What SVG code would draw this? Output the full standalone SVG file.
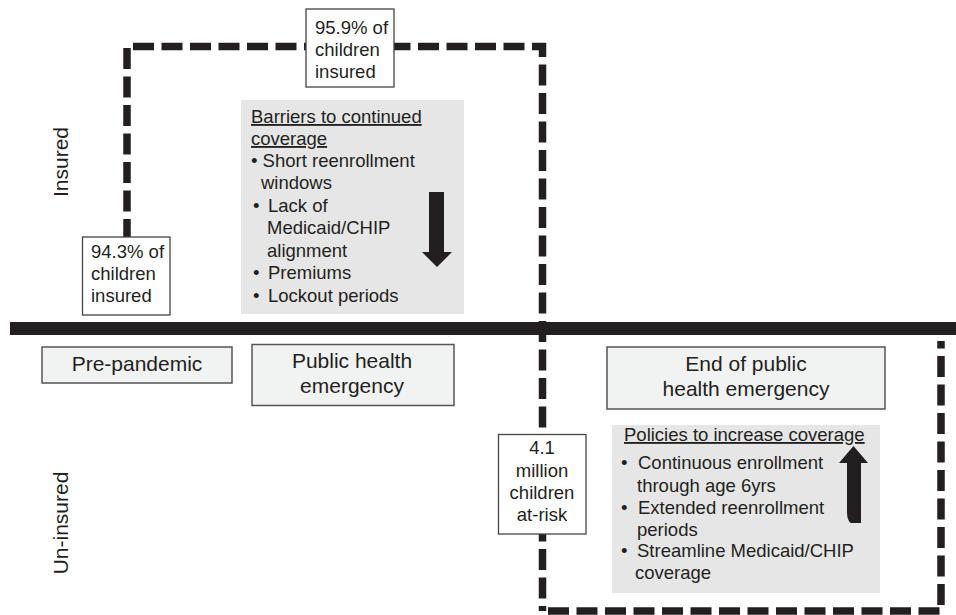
<svg xmlns="http://www.w3.org/2000/svg" width="956" height="615" viewBox="0 0 956 615">
<style>
text{font-family:"Liberation Sans",Arial,Helvetica,sans-serif;fill:#231f20}
.s{font-size:18.5px}
.l{font-size:21px}
.dash{fill:none;stroke:#231f20;stroke-width:7.5;stroke-dasharray:21 7.5}
.wbox{fill:#fff;stroke:#444;stroke-width:1.3}
.lbox{fill:#f1f2f2;stroke:#555;stroke-width:1.5}
.gbox{fill:#e6e6e6}
.ul{text-decoration:underline}
</style>
<rect width="956" height="615" fill="#fff"/>
<g id="connectors">
<rect x="10" y="322" width="946" height="13" fill="#231f20"/>
<line class="dash" x1="127" y1="48" x2="127" y2="240"/>
<path class="dash" d="M133,46.5 H542.5 V611"/>
<path class="dash" d="M548,611 H941 V341"/>
</g>
<g id="axis-insured"><text class="l" transform="translate(68,162) rotate(-90)" text-anchor="middle">Insured</text></g>
<g id="axis-uninsured"><text class="l" transform="translate(68,523) rotate(-90)" text-anchor="middle">Un-insured</text></g>
<g id="node-959">
<rect class="wbox" x="306" y="9" width="88" height="78"/>
<text class="s" x="315" y="34">95.9% of</text>
<text class="s" x="315" y="56">children</text>
<text class="s" x="315" y="78">insured</text>
</g>
<g id="node-943">
<rect class="wbox" x="82.5" y="237" width="87.5" height="78"/>
<text class="s" x="91" y="258">94.3% of</text>
<text class="s" x="91" y="280">children</text>
<text class="s" x="91" y="302">insured</text>
</g>
<g id="node-barriers">
<rect class="gbox" x="241" y="100" width="223" height="214"/>
<text class="s ul" x="251" y="123">Barriers to continued</text>
<text class="s ul" x="251" y="145">coverage</text>
<text class="s" x="251" y="167">• Short reenrollment</text>
<text class="s" x="261" y="189">windows</text>
<text class="s" x="253" y="212">•</text><text class="s" x="268" y="212">Lack of</text>
<text class="s" x="267" y="234">Medicaid/CHIP</text>
<text class="s" x="267" y="257">alignment</text>
<text class="s" x="253" y="279">•</text><text class="s" x="268" y="279">Premiums</text>
<text class="s" x="253" y="302">•</text><text class="s" x="268" y="302">Lockout periods</text>
<path d="M429,192 H444 V252 H452 L437,267 L422,252 H429 Z" fill="#231f20"/>
</g>
<g id="node-prepandemic">
<rect class="lbox" x="42" y="347" width="190" height="36"/>
<text class="l" x="137" y="371" text-anchor="middle">Pre-pandemic</text>
</g>
<g id="node-phe">
<rect class="lbox" x="252" y="344.5" width="202" height="61"/>
<text class="l" x="352" y="368" text-anchor="middle">Public health</text>
<text class="l" x="352" y="393" text-anchor="middle">emergency</text>
</g>
<g id="node-endphe">
<rect class="lbox" x="607" y="347" width="278" height="62"/>
<text class="l" x="746" y="371" text-anchor="middle">End of public</text>
<text class="l" x="746" y="396" text-anchor="middle">health emergency</text>
</g>
<g id="node-41">
<rect class="wbox" x="498.5" y="434.5" width="87.5" height="99.5"/>
<text class="s" x="542" y="454" text-anchor="middle">4.1</text>
<text class="s" x="542" y="477" text-anchor="middle">million</text>
<text class="s" x="542" y="499" text-anchor="middle">children</text>
<text class="s" x="542" y="521" text-anchor="middle">at-risk</text>
</g>
<g id="node-policies">
<rect class="gbox" x="612" y="425" width="268" height="168"/>
<text class="s ul" x="624" y="441">Policies to increase coverage</text>
<text class="s" x="621" y="469">•</text><text class="s" x="638" y="469">Continuous enrollment</text>
<text class="s" x="637" y="492">through age 6yrs</text>
<text class="s" x="621" y="514">•</text><text class="s" x="638" y="514">Extended reenrollment</text>
<text class="s" x="637" y="536">periods</text>
<text class="s" x="621" y="557">•</text><text class="s" x="637" y="557">Streamline Medicaid/CHIP</text>
<text class="s" x="635" y="579">coverage</text>
<path d="M853.5,446 L868,463 H861 V523 H851 Q847,521 847,512 V463 H839 Z" fill="#231f20"/>
</g>
</svg>
